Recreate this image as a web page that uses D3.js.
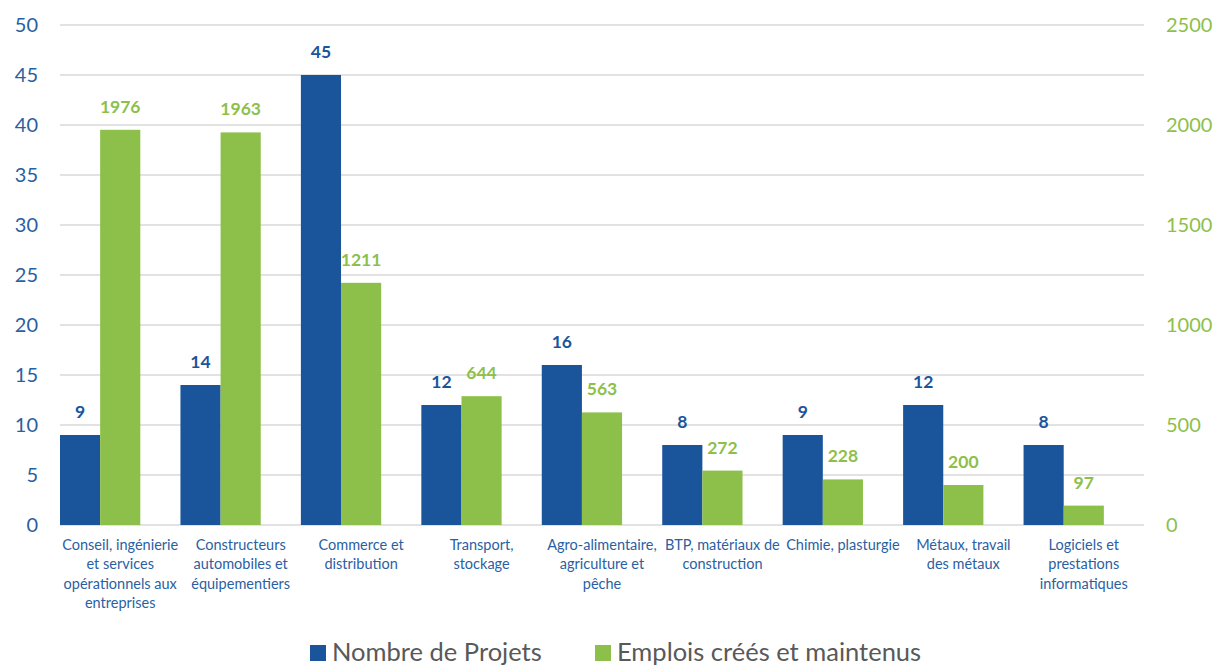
<!DOCTYPE html>
<html>
<head>
<meta charset="utf-8">
<script src="https://cdn.jsdelivr.net/npm/d3@7"></script>
<style>
  body { margin: 0; background: #fff; }
  svg { display: block; font-family: Lato, "Open Sans", sans-serif; }
</style>
</head>
<body>
<svg></svg>
<script>
var categories = ["Conseil, ingénierie\net services\nopérationnels aux\nentreprises",
                  "Constructeurs\nautomobiles et\néquipementiers",
                  "Commerce et\ndistribution",
                  "Transport,\nstockage",
                  "Agro-alimentaire,\nagriculture et\npêche",
                  "BTP, matériaux de\nconstruction",
                  "Chimie, plasturgie",
                  "Métaux, travail\ndes métaux",
                  "Logiciels et\nprestations\ninformatiques"];
var projets = [9, 14, 45, 12, 16, 8, 9, 12, 8];
var emplois = [1976, 1963, 1211, 644, 563, 272, 228, 200, 97];
var leftTicks = [0, 5, 10, 15, 20, 25, 30, 35, 40, 45, 50];
var rightTicks = [0, 500, 1000, 1500, 2000, 2500];
var seriesNames = ["Nombre de Projets", "Emplois créés et maintenus"];

var blue = "#1a559c", green = "#8dc04a";
var w = 1218, h = 668;
var svg = d3.select("svg").attr("width", w).attr("height", h);

var x0 = d3.scaleBand().domain(d3.range(categories.length)).range([60, 1144]).padding(0);
var x1 = d3.scaleBand().domain([0, 1]).range([0, x0.bandwidth() * 2 / 3]).padding(0);
var yL = d3.scaleLinear().domain([0, 50]).range([525, 25]);
var yR = d3.scaleLinear().domain([0, 2500]).range([525, 25]);

// gridlines
svg.append("g").selectAll("line")
  .data(leftTicks)
  .enter().append("line")
  .attr("x1", 60).attr("x2", 1144)
  .attr("y1", function(d) { return yL(d); })
  .attr("y2", function(d) { return yL(d); })
  .attr("stroke", "#d9d9d9").attr("stroke-width", 1.5);

// left axis
var axL = svg.append("g").attr("transform", "translate(38,0)")
  .call(d3.axisLeft(yL).tickValues(leftTicks).tickSize(0).tickPadding(0));
axL.select(".domain").remove();
axL.selectAll("text").attr("fill", "#2a5fa3").style("font-size", "20px")
  .style("font-family", "Lato, sans-serif");

// right axis
var axR = svg.append("g").attr("transform", "translate(1166,0)")
  .call(d3.axisRight(yR).tickValues(rightTicks).tickSize(0).tickPadding(0).tickFormat(d3.format("d")));
axR.select(".domain").remove();
axR.selectAll("text").attr("fill", green).style("font-size", "20px")
  .style("font-family", "Lato, sans-serif");

// bars
var groups = svg.append("g").selectAll("g")
  .data(categories)
  .enter().append("g")
  .attr("transform", function(d, i) { return "translate(" + x0(i) + ",0)"; });

groups.append("rect")
  .attr("x", x1(0)).attr("width", x1.bandwidth())
  .attr("y", function(d, i) { return yL(projets[i]); })
  .attr("height", function(d, i) { return yL(0) - yL(projets[i]); })
  .attr("fill", blue);

groups.append("rect")
  .attr("x", x1(1)).attr("width", x1.bandwidth())
  .attr("y", function(d, i) { return yR(emplois[i]); })
  .attr("height", function(d, i) { return yR(0) - yR(emplois[i]); })
  .attr("fill", green);

// value labels
groups.append("text")
  .attr("x", x1(0) + x1.bandwidth() / 2)
  .attr("y", function(d, i) { return yL(projets[i]) - 17; })
  .attr("text-anchor", "middle")
  .attr("fill", blue).style("font-size", "17.5px").style("font-weight", "bold")
  .text(function(d, i) { return projets[i]; });

groups.append("text")
  .attr("x", x1(1) + x1.bandwidth() / 2)
  .attr("y", function(d, i) { return yR(emplois[i]) - 17; })
  .attr("text-anchor", "middle")
  .attr("fill", green).style("font-size", "17.5px").style("font-weight", "bold")
  .text(function(d, i) { return emplois[i]; });

// category labels
groups.append("text")
  .attr("text-anchor", "middle")
  .attr("fill", "#2a5fa3").style("font-size", "14.5px")
  .each(function(d) {
    var t = d3.select(this);
    d.split("\n").forEach(function(line, k) {
      t.append("tspan")
        .attr("x", x0.bandwidth() / 2)
        .attr("y", 550 + k * 19.3)
        .text(line);
    });
  });

// legend
var legend = svg.append("g").selectAll("g")
  .data(seriesNames)
  .enter().append("g")
  .attr("transform", function(d, i) { return "translate(" + [310, 595][i] + ",645)"; });
legend.append("rect").attr("width", 16).attr("height", 16)
  .attr("fill", function(d, i) { return [blue, green][i]; });
legend.append("text").attr("x", 22).attr("y", 16)
  .attr("fill", "#595959").style("font-size", "25.5px")
  .text(function(d) { return d; });
</script>
</body>
</html>
